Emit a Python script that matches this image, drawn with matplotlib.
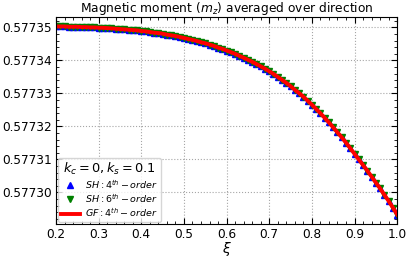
import matplotlib
matplotlib.use("Agg")
import matplotlib.pyplot as plt
from matplotlib.ticker import FormatStrFormatter, AutoMinorLocator, MultipleLocator

xi = [round(0.20 + 0.01 * i, 2) for i in range(81)]

m_gf = [
    0.5773503, 0.5773503, 0.5773503, 0.5773502, 0.5773502, 0.5773502, 0.5773501, 0.5773501, 0.5773500, 0.5773500,
    0.5773499, 0.5773499, 0.5773498, 0.5773497, 0.5773496, 0.5773495, 0.5773494, 0.5773493, 0.5773492, 0.5773491,
    0.5773489, 0.5773488, 0.5773486, 0.5773484, 0.5773483, 0.5773481, 0.5773478, 0.5773476, 0.5773474, 0.5773471,
    0.5773468, 0.5773465, 0.5773462, 0.5773459, 0.5773455, 0.5773452, 0.5773448, 0.5773444, 0.5773439, 0.5773435,
    0.5773430, 0.5773425, 0.5773420, 0.5773414, 0.5773408, 0.5773402, 0.5773396, 0.5773389, 0.5773382, 0.5773375,
    0.5773367, 0.5773359, 0.5773350, 0.5773341, 0.5773332, 0.5773322, 0.5773311, 0.5773301, 0.5773290, 0.5773278,
    0.5773266, 0.5773253, 0.5773240, 0.5773226, 0.5773212, 0.5773197, 0.5773182, 0.5773167, 0.5773151, 0.5773134,
    0.5773117, 0.5773100, 0.5773083, 0.5773066, 0.5773048, 0.5773030, 0.5773012, 0.5772993, 0.5772974, 0.5772954,
    0.5772933,
]
m_sh4 = list(m_gf)
m_sh6 = list(m_gf)

labels = [r"$SH: 4^{th}-order$", r"$SH: 6^{th}-order$", r"$GF: 4^{th}-order$"]
legend_title = r"$k_c = 0, k_s = 0.1$"
title = r"Magnetic moment $(m_z)$ averaged over direction"

fig = plt.figure(figsize=(4.09, 2.58), dpi=100)
ax = fig.add_axes([0.137, 0.132, 0.834, 0.802])

ax.plot(xi, m_sh4, linestyle="none", marker="^", color="blue", ms=5, label=labels[0])
ax.plot(xi, m_sh6, linestyle="none", marker="v", color="green", ms=5, label=labels[1])
ax.plot(xi, m_gf, linestyle="-", color="red", lw=2.8, label=labels[2])

ax.set_xlim(0.2, 1.0)
ax.xaxis.set_major_locator(MultipleLocator(0.1))
ax.yaxis.set_major_locator(MultipleLocator(1e-5))
ax.xaxis.set_minor_locator(AutoMinorLocator(5))
ax.yaxis.set_minor_locator(AutoMinorLocator(5))
ax.xaxis.set_major_formatter(FormatStrFormatter("%.1f"))
ax.yaxis.set_major_formatter(FormatStrFormatter("%.5f"))
ax.tick_params(which="both", direction="in", top=True, right=True)
ax.tick_params(which="major", length=4, labelsize=8.7, pad=3)
ax.tick_params(which="minor", length=2)
ax.grid(True, which="major", linestyle=":", color="gray", linewidth=0.8, alpha=0.7)

ax.set_xlabel(r"$\xi$", fontsize=10, labelpad=-1)
ax.set_title(title, fontsize=8.8, pad=3)

leg = ax.legend(loc="lower left", title=legend_title, fontsize=6.8, title_fontsize=9.3,
                handlelength=2.0, borderaxespad=0.25, borderpad=0.25, labelspacing=0.15,
                handletextpad=0.6)

fig.savefig("out.png", dpi=100)
